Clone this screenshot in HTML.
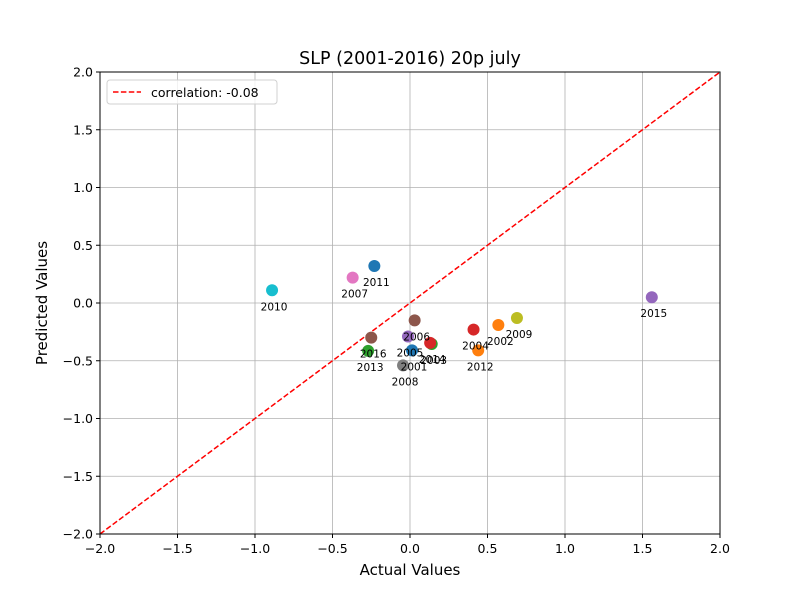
<!DOCTYPE html>
<html><head><meta charset="utf-8"><style>
body{margin:0;background:#fff;font-family:"DejaVu Sans","Liberation Sans",sans-serif;}
</style></head><body>
<svg id="chart" width="800" height="600" xmlns="http://www.w3.org/2000/svg"></svg>
<script>
const years=["2001","2002","2003","2004","2005","2006","2007","2008","2009","2010","2011","2012","2013","2014","2015","2016"];
const actual=[0.013,0.57,0.14,0.41,-0.013,0.03,-0.37,-0.045,0.69,-0.89,-0.23,0.44,-0.27,0.13,1.56,-0.25];
const predicted=[-0.41,-0.19,-0.355,-0.23,-0.29,-0.15,0.22,-0.54,-0.13,0.11,0.32,-0.41,-0.415,-0.345,0.05,-0.30];
const ticks=[-2,-1.5,-1,-0.5,0,0.5,1,1.5,2];
const tickLabels=["\u22122.0","\u22121.5","\u22121.0","\u22120.5","0.0","0.5","1.0","1.5","2.0"];
const colors=["#1f77b4","#ff7f0e","#2ca02c","#d62728","#9467bd","#8c564b","#e377c2","#7f7f7f","#bcbd22","#17becf"];
const NS="http://www.w3.org/2000/svg";
const svg=document.getElementById('chart');
const L=100,R=720,T=72,B=534;
const xs=v=>L+(v+2)/4*(R-L);
const ys=v=>B-(v+2)/4*(B-T);
function el(t,a,p){const e=document.createElementNS(NS,t);for(const k in a)e.setAttribute(k,a[k]);(p||svg).appendChild(e);return e;}
ticks.forEach((t,i)=>{
 const g1=el('line',{x1:xs(t),x2:xs(t),y1:T,y2:B,stroke:'#b0b0b0','stroke-width':0.8});
 
 
 const g2=el('line',{x1:L,x2:R,y1:ys(t),y2:ys(t),stroke:'#b0b0b0','stroke-width':0.8});
 
 
 const tx=el('line',{x1:xs(t),x2:xs(t),y1:B,y2:B+4,stroke:'#000'});
 
 
 const ty=el('line',{x1:L-4,x2:L,y1:ys(t),y2:ys(t),stroke:'#000'});
 
 
 const lx=el('text',{x:xs(t),y:B+19,'text-anchor':'middle','font-size':12.5});
 lx.textContent=tickLabels[i];
 
 
 const ly=el('text',{x:L-7,y:ys(t)+4.5,'text-anchor':'end','font-size':12.5});
 ly.textContent=tickLabels[i];
 
 
});
const d=el('line',{x1:xs(-2),y1:ys(-2),x2:xs(2),y2:ys(2),stroke:'#ff0000','stroke-width':1.5,'stroke-dasharray':'5.5,2.4'});


years.forEach((y,i)=>{
 const c=el('circle',{cx:xs(actual[i]),cy:ys(predicted[i]),r:6,fill:colors[i%10]});
 
 
});
years.forEach((y,i)=>{
 const t=el('text',{x:xs(actual[i])+2,y:ys(predicted[i])+20,'text-anchor':'middle','font-size':10.5});
 t.textContent=y;
 
 
});
const f=el('rect',{x:L,y:T,width:R-L,height:B-T,fill:'none',stroke:'#000','stroke-width':1});


const lg=el('g',{});


el('rect',{x:107,y:80,width:170,height:24,rx:3,fill:'#fff','fill-opacity':0.8,stroke:'#d0d0d0'},lg);
el('line',{x1:113,x2:141,y1:92,y2:92,stroke:'#ff0000','stroke-width':1.5,'stroke-dasharray':'5.5,2.4'},lg);
const lt=el('text',{x:151,y:97,'font-size':12.5},lg);
lt.textContent='correlation: -0.08';


const ti=el('text',{x:410,y:64,'text-anchor':'middle','font-size':17.5});
ti.textContent='SLP (2001-2016) 20p july';


const xt=el('text',{x:410,y:575,'text-anchor':'middle','font-size':15});
xt.textContent='Actual Values';


const yt=el('text',{x:47,y:303,'text-anchor':'middle','font-size':15,transform:'rotate(-90 47 303)'});
yt.textContent='Predicted Values';


</script>
</body></html>
